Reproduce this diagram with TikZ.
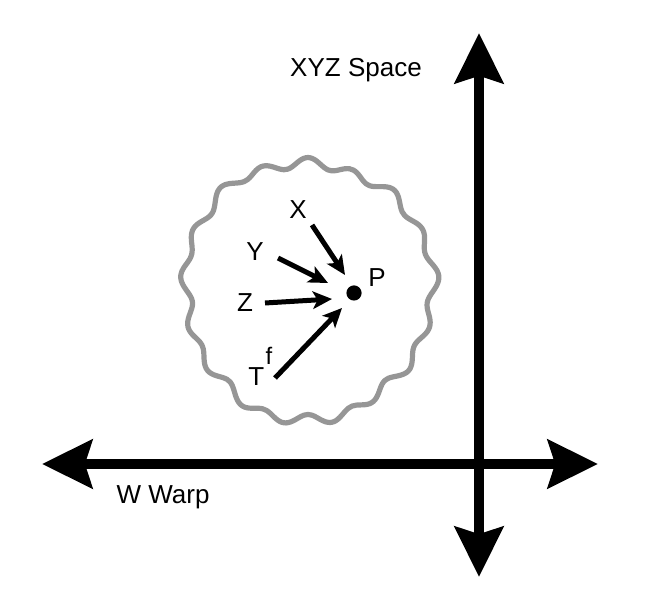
\documentclass[tikz,border=0pt]{standalone}
\usepackage{fontspec}
\setmainfont{Liberation Sans}
\usetikzlibrary{arrows.meta}
\definecolor{Blobgray}{RGB}{150,150,150}

\begin{document}
\begin{tikzpicture}[
      axis/.style={line width=0.27cm, {Stealth[length=1.25cm,width=1.2cm,inset=0.18cm]}-{Stealth[length=1.25cm,width=1.2cm,inset=0.18cm]}},
      feed/.style={line width=0.125cm, -{Stealth[length=0.48cm,width=0.44cm,inset=0.12cm]}},
      lbl/.style={font=\fontsize{18.5}{22}\selectfont, inner sep=0pt}]
      \useasboundingbox (0,0) rectangle (16.2,15.075);
            % the two axes
            \coordinate (Wl) at (1.05,3.475);
            \coordinate (Wr) at (14.95,3.475);
            \coordinate (Sb) at (11.975,0.65);
            \coordinate (St) at (11.975,14.25);
            \draw[axis] (Wl) -- (Wr);
            \draw[axis] (Sb) -- (St);
            \node[lbl] (space) at (8.9,13.325) {XYZ Space};
            \node[lbl] (warp) at (4.075,2.65) {W Warp};
            % wavy region
            \draw[Blobgray, line width=0.13cm] plot[smooth cycle, domain=0:358, samples=180, variable=\t]
                  ({7.7+3.06*(1+0.035*sin(17*\t)+0.012*sin(9*\t+20)+0.02*sin(3*\t+40)+0.012*sin(2*\t+100))*cos(\t)},
                   {7.825+3.25*(1+0.035*sin(17*\t)+0.012*sin(9*\t+20)+0.02*sin(3*\t+40)+0.012*sin(2*\t+100))*sin(\t)});
            % point and its inputs
            \node[circle, fill, inner sep=0pt, minimum size=0.38cm] (P) at (8.85,7.75) {};
            \node[lbl] (Plabel) at (9.425,8.125) {P};
            \node[lbl] (X) at (7.45,9.825) {X};
            \node[lbl] (Y) at (6.375,8.775) {Y};
            \node[lbl] (Z) at (6.125,7.5) {Z};
            \node[lbl, anchor=base west] (T) at (6.2,5.425) {T\kern1pt\raisebox{15pt}{\fontsize{17}{19}\selectfont f}};
            \coordinate (Xs) at (7.8,9.45);
            \coordinate (Xe) at (8.625,8.2);
            \coordinate (Ys) at (6.95,8.625);
            \coordinate (Ye) at (8.2,8.0);
            \coordinate (Zs) at (6.625,7.5);
            \coordinate (Ze) at (8.3,7.6);
            \coordinate (Ts) at (6.875,5.625);
            \coordinate (Te) at (8.55,7.375);
            \foreach \v in {X,Y,Z,T}{
                \draw[feed] (\v s) -- (\v e);
            }
        \end{tikzpicture}
\end{document}
